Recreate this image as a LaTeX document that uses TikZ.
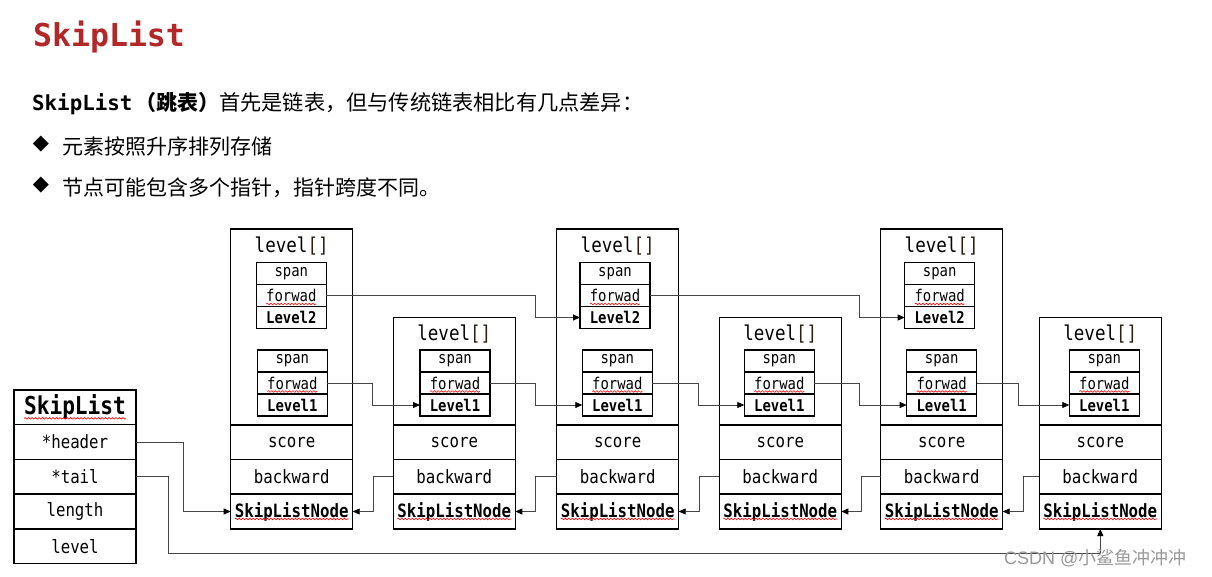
\documentclass[tikz,border=0pt]{standalone}
\usepackage{fontspec}
\setmainfont{DejaVu Sans}
\setmonofont{DejaVu Sans Mono}
\newfontfamily\dmono[FakeStretch=0.86]{DejaVu Sans Mono}
\newfontfamily\cjk{Noto Sans CJK SC}
\newfontfamily\symf{DejaVu Sans}
\newfontfamily\wmf{Liberation Sans}
\usetikzlibrary{arrows.meta,calc,decorations.pathmorphing}
\definecolor{titlered}{RGB}{178,40,40}
\definecolor{brk}{RGB}{45,32,18}
\definecolor{lncol}{RGB}{70,70,70}
\tikzset{
  box/.style={draw, line width=1.4pt, inner sep=0pt, outer sep=0pt, anchor=north west, minimum width=122pt},
  row/.style={box, minimum height=34.6pt, font=\fontsize{18.3}{18}\selectfont\dmono},
  namerow/.style={row, font=\fontsize{18.3}{18}\selectfont\dmono\bfseries},
  ibox/.style={draw, line width=1.4pt, inner sep=0pt, outer sep=0pt, anchor=north west, minimum width=70pt, minimum height=22pt, font=\fontsize{16.2}{16}\selectfont\dmono},
  iboxb/.style={ibox, font=\fontsize{16.2}{16}\selectfont\dmono\bfseries},
  lvltext/.style={inner sep=0pt, font=\fontsize{20.4}{20}\selectfont\dmono},
  conn/.style={draw=lncol, line width=0.8pt, -{Triangle[length=7pt,width=6pt,color=black]}},
  squig/.style={draw=red, line width=0.6pt, decorate, decoration={snake, amplitude=0.8pt, segment length=3.5pt}},
}
\begin{document}
\begin{tikzpicture}[x=1pt,y=-1pt]
\useasboundingbox (0,0) rectangle (1212,577);
% heading texts
\node[anchor=base west, inner sep=0pt, text=titlered, font=\fontsize{31.5}{32}\selectfont\ttfamily\bfseries] (title) at (33,47) {SkipList};
\node[anchor=base west, inner sep=0pt] (intro) at (32,111) {{\fontsize{20.8}{21}\selectfont\ttfamily\bfseries SkipList}\hspace{3pt}{\cjk\fontsize{21}{21}\selectfont\bfseries （跳表）}{\cjk\fontsize{21.2}{21}\selectfont 首先是链表，但与传统链表相比有几点差异：}};
\node[inner sep=0pt, font=\symf\fontsize{21}{21}\selectfont] (b1) at (41,144) {◆};
\node[anchor=base west, inner sep=0pt, font=\cjk\fontsize{21}{21}\selectfont] (t1) at (62,155) {元素按照升序排列存储};
\node[inner sep=0pt, font=\symf\fontsize{21}{21}\selectfont] (b2) at (41,185) {◆};
\node[anchor=base west, inner sep=0pt, font=\cjk\fontsize{21}{21}\selectfont] (t2) at (62,196) {节点可能包含多个指针，指针跨度不同。};

% SkipList struct
\node[row, font=\fontsize{24.6}{25}\selectfont\dmono\bfseries, minimum height=34.7pt] (sl-name) at (14,390) {SkipList};
\node[row, minimum height=34.7pt] (sl-h) at (14,424.7) {*header};
\node[row, minimum height=34.7pt] (sl-t) at (14,459.4) {*tail};
\node[row, minimum height=34.7pt] (sl-len) at (14,494.1) {length};
\node[row, minimum height=34.7pt] (sl-lvl) at (14,528.8) {level};
\draw[squig] ($(sl-name.center)+(-51,11)$) -- ($(sl-name.center)+(51,11)$);

% skip list nodes: common parts
\foreach \i/\L/\T/\lo in {1/230.7/229/26.6, 2/393.3/317.5/26.7, 3/556.7/229/25.6, 4/719.3/317.5/25, 5/880.7/229/26, 6/1039.3/317.5/30}{
  \pgfmathsetmacro{\H}{425-\T}
  \node[box, minimum height=\H pt] (n\i-lvl) at (\L,\T) {};
  \node[lvltext] (n\i-lt) at (\L+61,\T+17) {level\textcolor{brk}{[]}};
  \node[row, minimum height=34.5pt] (n\i-score) at (\L,425) {score};
  \node[row, minimum height=34.5pt] (n\i-bw) at (\L,459.5) {backward};
  \node[namerow, minimum height=35pt] (n\i-name) at (\L,494) {SkipListNode};
  \node[ibox] (n\i-sp1) at (\L+\lo,350) {span};
  \node[ibox] (n\i-fw1) at (\L+\lo,372) {forwad};
  \node[iboxb] (n\i-lv1) at (\L+\lo,394) {Level1};
  \draw[squig] ($(n\i-fw1.center)+(-25,8.5)$) -- ($(n\i-fw1.center)+(25,8.5)$);
  \draw[squig] ($(n\i-name.center)+(-57,7.5)$) -- ($(n\i-name.center)+(57,7.5)$);
}
% tall nodes: level 2
\foreach \i/\L/\to in {1/230.7/25.6, 3/556.7/23.3, 5/880.7/24}{
  \node[ibox] (n\i-sp2) at (\L+\to,262.5) {span};
  \node[ibox] (n\i-fw2) at (\L+\to,284.5) {forwad};
  \node[iboxb] (n\i-lv2) at (\L+\to,306.5) {Level2};
  \draw[squig] ($(n\i-fw2.center)+(-25,8.5)$) -- ($(n\i-fw2.center)+(25,8.5)$);
}

% level1 forward pointers
\foreach \a/\b in {1/2, 2/3, 3/4, 4/5, 5/6}{
  \draw[conn] (n\a-fw1.east) -| ($(n\b-lv1.west -| n\b-lvl.west)+(-21,0)$) -- (n\b-lv1.west);
}
% level2 forward pointers
\foreach \a/\b in {1/3, 3/5}{
  \draw[conn] (n\a-fw2.east) -| ($(n\b-lv2.west -| n\b-lvl.west)+(-21,0)$) -- (n\b-lv2.west);
}
% backward pointers
\foreach \a/\b in {1/2, 2/3, 3/4, 4/5, 5/6}{
  \draw[conn] (n\b-bw.west) -| ($(n\a-name.east)+(20.5,0)$) -- (n\a-name.east);
}
% header and tail
\draw[conn] (sl-h.east) -| ($(n1-name.west)+(-47.5,0)$) -- (n1-name.west);
\coordinate (tb) at (168.5,553);
\draw[conn] (sl-t.east) -| (tb) -| (n6-name.south);

% watermark
\node[anchor=west, inner sep=0pt, text=black!40, font=\fontsize{18}{18}\selectfont] (wm) at (1004,558) {{\wmf CSDN @}{\cjk 小鲨鱼冲冲冲}};
\end{tikzpicture}
\end{document}
